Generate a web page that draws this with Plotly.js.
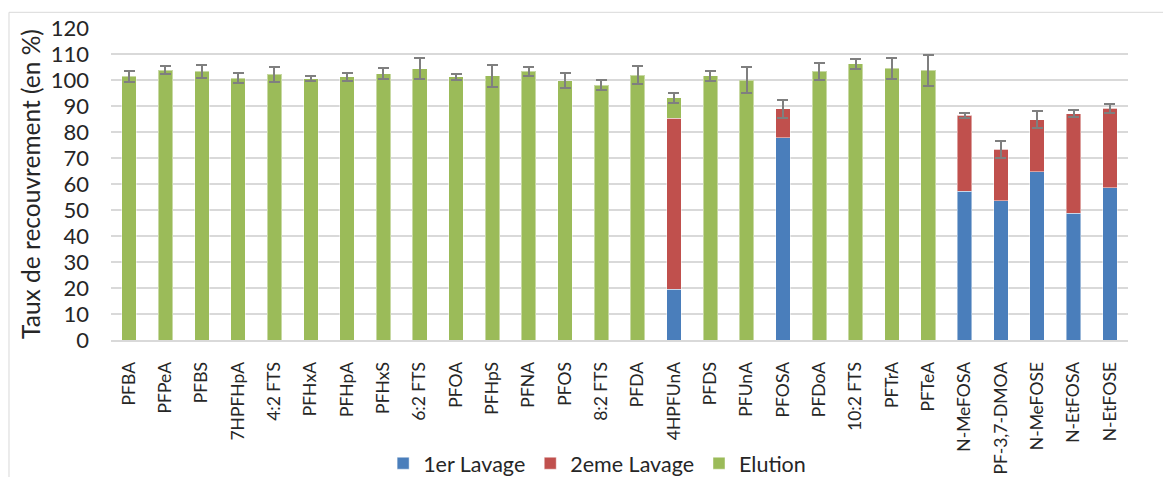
<!DOCTYPE html>
<html>
<head>
<meta charset="utf-8">
<script src="https://cdn.plot.ly/plotly-3.0.1.min.js"></script>
<style>html,body{margin:0;padding:0;background:#fff;}#chart{width:1163px;height:477px;}</style>
</head>
<body>
<div id="chart"></div>
<script>
const categories = ["PFBA","PFPeA","PFBS","7HPFHpA","4:2 FTS","PFHxA","PFHpA","PFHxS","6:2 FTS","PFOA","PFHpS","PFNA","PFOS","8:2 FTS","PFDA","4HPFUnA","PFDS","PFUnA","PFOSA","PFDoA","10:2 FTS","PFTrA","PFTeA","N-MeFOSA","PF-3,7-DMOA","N-MeFOSE","N-EtFOSA","N-EtFOSE"];
const lavage1 = [0,0,0,0,0,0,0,0,0,0,0,0,0,0,0,19.5,0,0,77.8,0,0,0,0,57.2,53.6,64.8,48.7,58.5];
const lavage2 = [0,0,0,0,0,0,0,0,0,0,0,0,0,0,0,65.7,0,0,11.2,0,0,0,0,29.2,19.7,20.0,38.4,30.6];
const elution = [101.4,103.7,103.3,100.7,102.2,100.5,101.3,102.5,104.4,101.3,101.6,103.3,99.8,98.0,101.8,7.9,101.6,100.0,0,103.3,106.3,104.5,103.7,0,0,0,0,0];
const errors  = [2.0,1.5,2.5,1.9,2.8,0.9,1.5,2.1,4.0,1.2,4.1,1.6,3.0,1.9,3.4,1.8,2.0,4.9,3.5,3.2,1.9,4.1,5.9,0.9,3.4,3.2,1.4,1.6];
const yTicks = [0,10,20,30,40,50,60,70,80,90,100,110,120];

const font = "Lato, 'Open Sans', sans-serif";
const lineCol = 'rgba(255,255,255,0.45)';
const traces = [
  {type:'bar', name:'1er Lavage', x:categories, y:lavage1, marker:{color:'#4a7ebb', line:{color:lineCol, width:1}}},
  {type:'bar', name:'2eme Lavage', x:categories, y:lavage2, marker:{color:'#c0504d', line:{color:lineCol, width:1}}},
  {type:'bar', name:'Elution', x:categories, y:elution, marker:{color:'#9bbb59', line:{color:lineCol, width:1}},
   error_y:{type:'data', array:errors, visible:true, color:'#7f7f7f', thickness:2, width:5.5}}
];
const layout = {
  width:1163, height:477,
  margin:{l:111, r:35, t:28, b:137, autoexpand:false},
  barmode:'stack', bargap:0.6,
  paper_bgcolor:'#fff', plot_bgcolor:'#fff',
  font:{family:font, color:'#262626'},
  xaxis:{type:'category', tickangle:-90, tickfont:{size:17.5, family:font, color:'#262626'}, automargin:false,
         showgrid:false, showline:true, linecolor:'#d9d9d9', linewidth:2, ticks:'', ticklabelstandoff:13},
  yaxis:{range:[0,120], tickvals:yTicks, ticktext:yTicks.map(String), showgrid:true, gridcolor:'#d9d9d9', gridwidth:2,
         zeroline:false, showline:false, ticks:'', tickfont:{size:22, family:font, color:'#262626'}, ticklabelstandoff:21, automargin:false,
         title:{text:'Taux de recouvrement (en %)', font:{size:24.5, family:font, color:'#262626'}, standoff:3}},
  legend:{orientation:'h', x:0.478, xanchor:'center', y:-0.395, yanchor:'middle', font:{size:21.5, family:font, color:'#262626'}, traceorder:'normal'},
  shapes:[{type:'rect', xref:'paper', yref:'paper', x0:-0.1003, x1:1.2, y0:-0.6, y1:1.0503, line:{color:'#d9d9d9', width:1}, fillcolor:'rgba(0,0,0,0)', layer:'below'}],
  showlegend:true
};
Plotly.newPlot('chart', traces, layout, {displayModeBar:false, staticPlot:true});
</script>
</body>
</html>
